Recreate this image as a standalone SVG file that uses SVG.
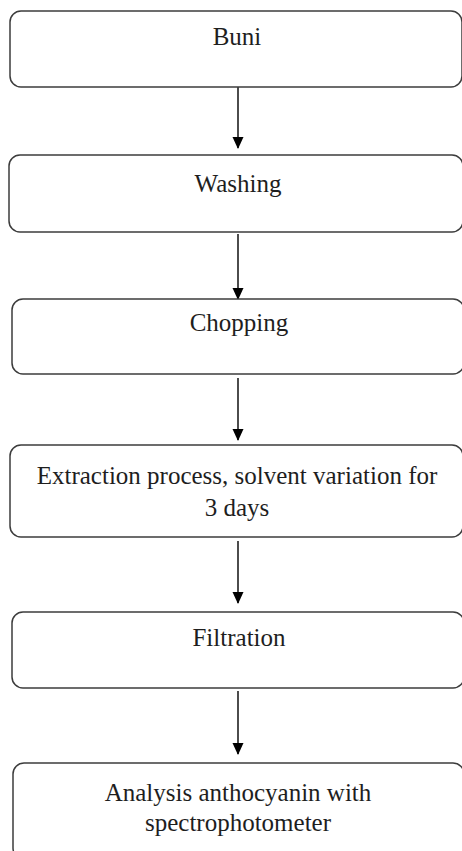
<svg xmlns="http://www.w3.org/2000/svg" width="462" height="851" viewBox="0 0 462 851">
<style>
.box{fill:#fff;stroke:#3c3c3c;stroke-width:1.5}
.t{font-family:"Liberation Serif","Times New Roman",serif;font-size:25px;fill:#1e1e1e;text-anchor:middle}
.c{stroke:#000;stroke-width:1.4;fill:none}
</style>
<defs>
<marker id="ah" markerUnits="userSpaceOnUse" markerWidth="12" markerHeight="13" refX="12" refY="6" orient="auto" viewBox="0 0 13 12">
<path d="M0,0 L13,6 L0,12 Z" fill="#000"/>
</marker>
</defs>
<rect width="462" height="851" fill="#fff"/>
<g id="connectors">
<line class="c" x1="238" y1="87" x2="238" y2="148" marker-end="url(#ah)"/>
<line class="c" x1="238" y1="234" x2="238" y2="299" marker-end="url(#ah)"/>
<line class="c" x1="238" y1="378" x2="238" y2="440" marker-end="url(#ah)"/>
<line class="c" x1="238" y1="541" x2="238" y2="603" marker-end="url(#ah)"/>
<line class="c" x1="238" y1="691" x2="238" y2="754" marker-end="url(#ah)"/>
</g>
<g id="n1"><rect class="box" x="10" y="11" width="452" height="76" rx="11"/><text class="t" x="237" y="45">Buni</text></g>
<g id="n2"><rect class="box" x="9" y="155" width="454" height="77" rx="11"/><text class="t" x="238" y="192">Washing</text></g>
<g id="n3"><rect class="box" x="12" y="299" width="452" height="75" rx="11"/><text class="t" x="239" y="331">Chopping</text></g>
<g id="n4"><rect class="box" x="10" y="445" width="453" height="92" rx="11"/><text class="t" x="237" y="484"><tspan x="237">Extraction process, solvent variation for</tspan><tspan x="237" y="516">3 days</tspan></text></g>
<g id="n5"><rect class="box" x="12" y="612" width="452" height="76" rx="11"/><text class="t" x="239" y="646">Filtration</text></g>
<g id="n6"><rect class="box" x="13" y="763" width="451" height="96" rx="11"/><text class="t" x="238" y="801"><tspan x="238">Analysis anthocyanin with</tspan><tspan x="238" y="831">spectrophotometer</tspan></text></g>
</svg>
